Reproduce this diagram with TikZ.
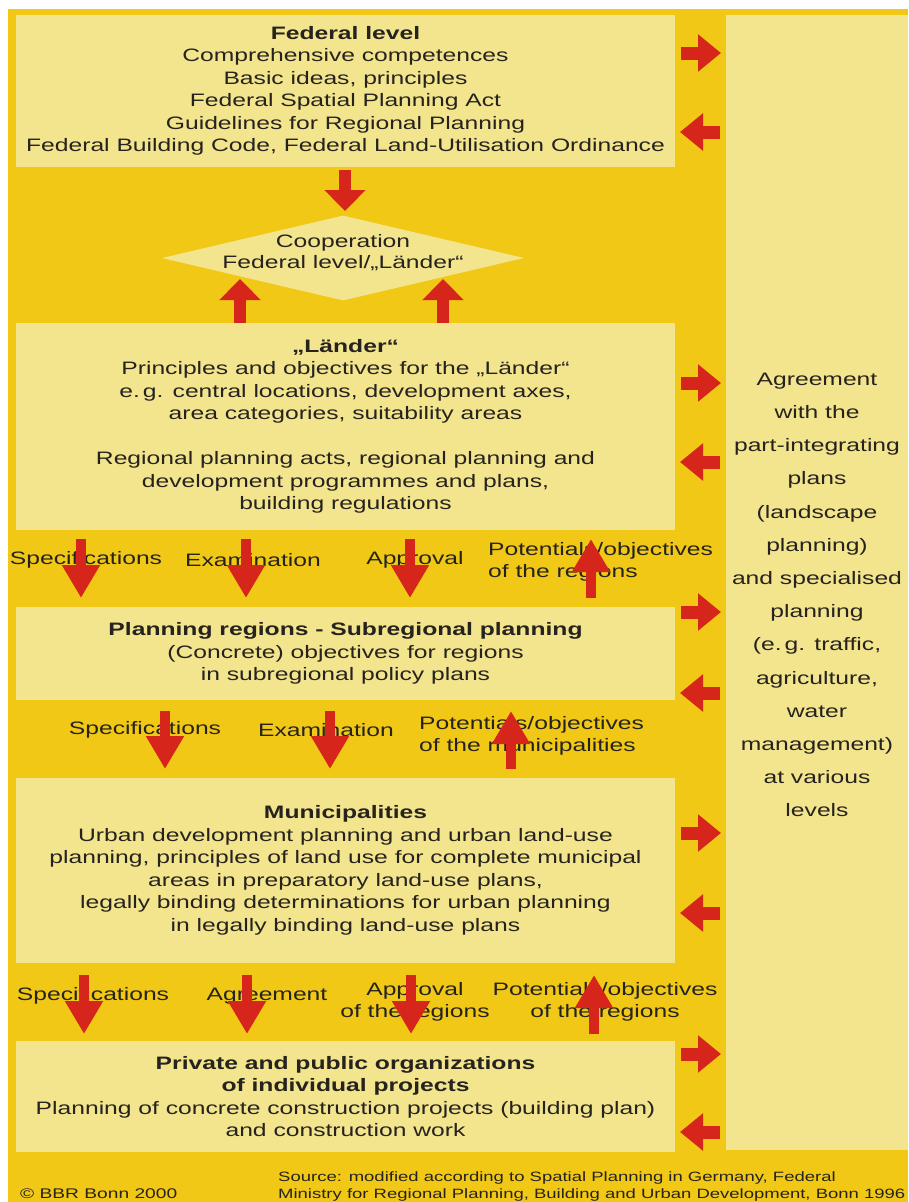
\documentclass[tikz,border=0pt]{standalone}
\usepackage{fontspec}
\setmainfont{Liberation Sans}[FakeStretch=1.37]
\usetikzlibrary{arrows.meta,shapes.geometric}
\definecolor{bgyellow}{RGB}{241,200,22}
\definecolor{paleyellow}{RGB}{243,228,142}
\definecolor{arrowred}{RGB}{214,38,28}
\definecolor{inkgray}{RGB}{38,35,30}
\begin{document}
\begin{tikzpicture}[x=1pt,y=-1pt,
  box/.style={fill=paleyellow, draw=none, inner sep=0pt, align=center, text=inkgray,
    font=\fontsize{18}{22.5}\selectfont, minimum width=659pt},
  lbl/.style={text=inkgray, font=\fontsize{18}{22.5}\selectfont, inner sep=0pt},
  foot/.style={text=inkgray, font=\fontsize{14}{17}\selectfont, inner sep=0pt, align=left},
  sidearrow/.style={color=arrowred, line width=13pt, -{Triangle[length=23pt,width=36pt]}},
  vertarrow/.style={color=arrowred, line width=10pt, -{Triangle[length=33pt,width=36pt]}},
  coopdown/.style={color=arrowred, line width=12pt, -{Triangle[length=21pt,width=40pt]}},
]
\useasboundingbox (0,0) rectangle (908,1202);
\clip (0,0) rectangle (908,1202);
\fill[white] (0,0) rectangle (908,1202);
\fill[bgyellow] (8,9) rectangle (908,1202);

% right panel
\node[fill=paleyellow, inner sep=0pt, minimum width=182pt, minimum height=1135pt] (panel) at (817,582.5) {};
\node[text=inkgray, font=\fontsize{18}{33.2}\selectfont, align=center, inner sep=0pt] (paneltext) at (817,595)
  {Agreement\\with the\\part-integrating\\plans\\(landscape\\planning)\\and specialised\\planning\\(e.\,g. traffic,\\agriculture,\\water\\management)\\at various\\levels};

% boxes
\node[box, minimum height=152pt] (fed) at (345.5,91)
  {\textbf{Federal level}\\Comprehensive competences\\Basic ideas, principles\\Federal Spatial Planning Act\\Guidelines for Regional Planning\\Federal Building Code, Federal Land-Utilisation Ordinance};

\node[diamond, fill=paleyellow, inner sep=0pt, minimum width=362pt, minimum height=85pt] (coop) at (343,258) {};
\node[lbl, align=center, font=\fontsize{18}{21}\selectfont] (cooptext) at (343,253) {Cooperation\\Federal level/„Länder“};

\node[box, minimum height=207pt] (lander) at (345.5,426.5)
  {\textbf{„Länder“}\\Principles and objectives for the „Länder“\\e.\,g. central locations, development axes,\\area categories, suitability areas\\[22.5pt]Regional planning acts, regional planning and\\development programmes and plans,\\building regulations};

\node[box, minimum height=93pt] (plan) at (345.5,653.5)
  {\textbf{Planning regions - Subregional planning}\\(Concrete) objectives for regions\\in subregional policy plans};

\node[box, minimum height=185pt] (muni) at (345.5,870.5)
  {\textbf{Municipalities}\\Urban development planning and urban land-use\\planning, principles of land use for complete municipal\\areas in preparatory land-use plans,\\legally binding determinations for urban planning\\in legally binding land-use plans};

\node[box, minimum height=111pt] (priv) at (345.5,1096.5)
  {\textbf{Private and public organizations}\\\textbf{of individual projects}\\Planning of concrete construction projects (building plan)\\and construction work};

% row labels
\node[lbl] (r1a) at (86,560) {Specifications};
\node[lbl] (r1b) at (253,560) {Examination};
\node[lbl] (r1c) at (415,560) {Approval};
\node[lbl, anchor=west, align=left] (r1d) at (488,562) {Potentials/objectives\\of the regions};

\node[lbl] (r2a) at (145,730) {Specifications};
\node[lbl] (r2b) at (326,730) {Examination};
\node[lbl, anchor=west, align=left] (r2c) at (419,736) {Potentials/objectives\\of the municipalities};

\node[lbl] (r3a) at (93,996) {Specifications};
\node[lbl] (r3b) at (267,996) {Agreement};
\node[lbl, align=center] (r3c) at (415,1002) {Approval\\of the regions};
\node[lbl, align=center] (r3d) at (605,1002) {Potentials/objectives\\of the regions};

% footer
\node[foot, anchor=west] (copy) at (20,1194) {© BBR Bonn 2000};
\node[foot, anchor=west, font=\fontsize{13.5}{17}\selectfont] (source) at (278,1186) {Source: modified according to Spatial Planning in Germany, Federal\\Ministry for Regional Planning, Building and Urban Development, Bonn 1996};

% side arrow coordinates
\foreach \n/\yr/\yl in {f/53/132, l/383/462, p/612/693, m/833/913, v/1054/1132}{
  \coordinate (\n rs) at (681,\yr); \coordinate (\n re) at (721,\yr);
  \coordinate (\n ls) at (720,\yl); \coordinate (\n le) at (680,\yl);
}
\foreach \n in {f,l,p,m,v}{
  \draw[sidearrow] (\n rs) -- (\n re);
  \draw[sidearrow] (\n ls) -- (\n le);
}

% federal -> cooperation
\coordinate (fc1) at (345,170);
\coordinate (fc2) at (345,211);
\draw[coopdown] (fc1) -- (fc2);
% laender -> cooperation
\coordinate (lc1s) at (240,323); \coordinate (lc1e) at (240,279);
\coordinate (lc2s) at (443,323); \coordinate (lc2e) at (443,279);
\draw[coopdown] (lc1s) -- (lc1e);
\draw[coopdown] (lc2s) -- (lc2e);

% row 1 arrows
\foreach \n/\x in {a/81, b/246, c/410}{
  \coordinate (r1\n s) at (\x,539); \coordinate (r1\n e) at (\x,598);
  \draw[vertarrow] (r1\n s) -- (r1\n e);
}
\coordinate (r1ds) at (591,598); \coordinate (r1de) at (591,539);
\draw[vertarrow] (r1ds) -- (r1de);

% row 2 arrows
\foreach \n/\x in {a/165, b/330}{
  \coordinate (r2\n s) at (\x,711); \coordinate (r2\n e) at (\x,769);
  \draw[vertarrow] (r2\n s) -- (r2\n e);
}
\coordinate (r2cs) at (511,769); \coordinate (r2ce) at (511,711);
\draw[vertarrow] (r2cs) -- (r2ce);

% row 3 arrows
\foreach \n/\x in {a/84, b/247, c/411}{
  \coordinate (r3\n s) at (\x,975); \coordinate (r3\n e) at (\x,1034);
  \draw[vertarrow] (r3\n s) -- (r3\n e);
}
\coordinate (r3ds) at (594,1034); \coordinate (r3de) at (594,975);
\draw[vertarrow] (r3ds) -- (r3de);
\end{tikzpicture}
\end{document}
